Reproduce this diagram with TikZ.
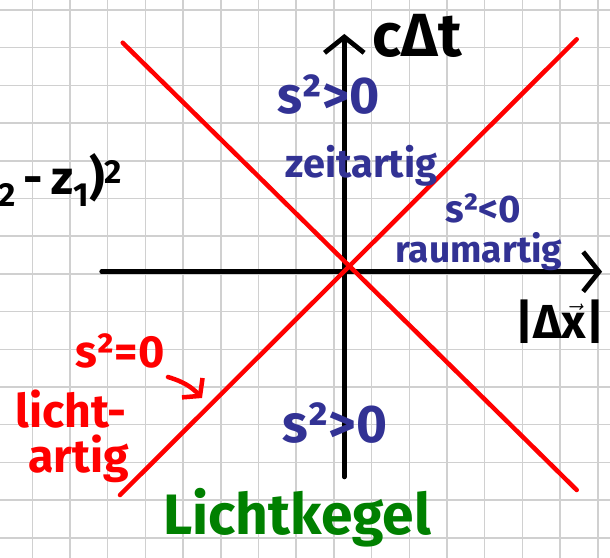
\documentclass[tikz,border=0pt]{standalone}
\usepackage{fontspec}
\setmainfont{Fira Sans}
\usetikzlibrary{arrows.meta,positioning}
\definecolor{inkred}{RGB}{255,0,0}
\definecolor{inkblue}{RGB}{50,50,148}
\definecolor{inkgreen}{RGB}{0,128,0}
\definecolor{gridgray}{RGB}{208,208,208}

\begin{document}
\begin{tikzpicture}[
        gridline/.style={draw=gridgray, line width=1.1pt},
        axis/.style={-{Straight Barb[length=0.42cm, width=1.05cm]}, line width=3.6pt,
                     line cap=round, line join=round, black},
        cone/.style={line width=3.4pt, line cap=round, inkred},
        hand/.style={inner sep=0pt, anchor=base west, font=\bfseries\fontsize{#1}{#1}\selectfont},
        hand/.default=36pt
    ]
        \useasboundingbox (0,0) rectangle (16.18,-14.80);
        \clip (0,0) rectangle (16.18,-14.80);
        \begin{scope}[shift={(0.857,-0.265)}]
            \draw[gridline, step=1] (-1,-15) grid (16,1);
        \end{scope}

        \coordinate (o) at (9.133,-7.207);
        \coordinate (xl) at (2.698,-7.207);
        \coordinate (xr) at (15.97,-7.207);
        \coordinate (tb) at (9.133,-12.65);
        \coordinate (tt) at (9.133,-0.90);
        \coordinate (ul) at (3.255,-1.133);
        \coordinate (lr) at (15.297,-12.997);
        \coordinate (ur) at (15.297,-1.042);
        \coordinate (ll) at (3.183,-13.13);

        \draw[axis] (xl) -- (xr);
        \draw[axis] (tb) -- (tt);
        \draw[cone] (ul) -- (lr);
        \draw[cone] (ur) -- (ll);

        \node[hand=46pt] (ct) at (9.87,-1.51) {cΔt};
        \node[hand=36pt] (dx) at (13.66,-8.97) {|Δ$\vec{\mbox{x}}$|};
        \node[hand=36pt, anchor=base east] (dz) at (3.263,-5.172)
            {(z\textsubscript{2}\,-\,z\textsubscript{1})\textsuperscript{2}};

        \node[hand=39pt, text=inkblue] (stop) at (7.35,-3.0) {s²>0};
        \node[hand=30pt, text=inkblue] (zeit) at (7.56,-4.72) {zeitartig};
        \node[hand=29pt, text=inkblue] (sright) at (11.80,-5.89) {s²<0};
        \node[hand=28pt, text=inkblue] (raum) at (10.48,-6.95) {raumartig};
        \node[hand=40pt, text=inkblue] (sbot) at (7.48,-11.75) {s²>0};

        \node[hand=34pt, text=inkred] (snull) at (1.99,-9.76) {s²=0};
        \node[hand=35pt, text=inkred] (licht) at (0.40,-11.35) {licht-};
        \node[hand=35pt, text=inkred] (artig) at (0.74,-12.52) {artig};
        \coordinate (hit) at (5.358,-10.557);
        \draw[cone, -{Straight Barb[length=0.3cm, width=0.75cm]}] (4.456,-10.0) to[bend left=15] (hit);

        \node[hand=43pt, text=inkgreen] (kegel) at (4.32,-14.19) {Lichtkegel};
    \end{tikzpicture}
\end{document}
